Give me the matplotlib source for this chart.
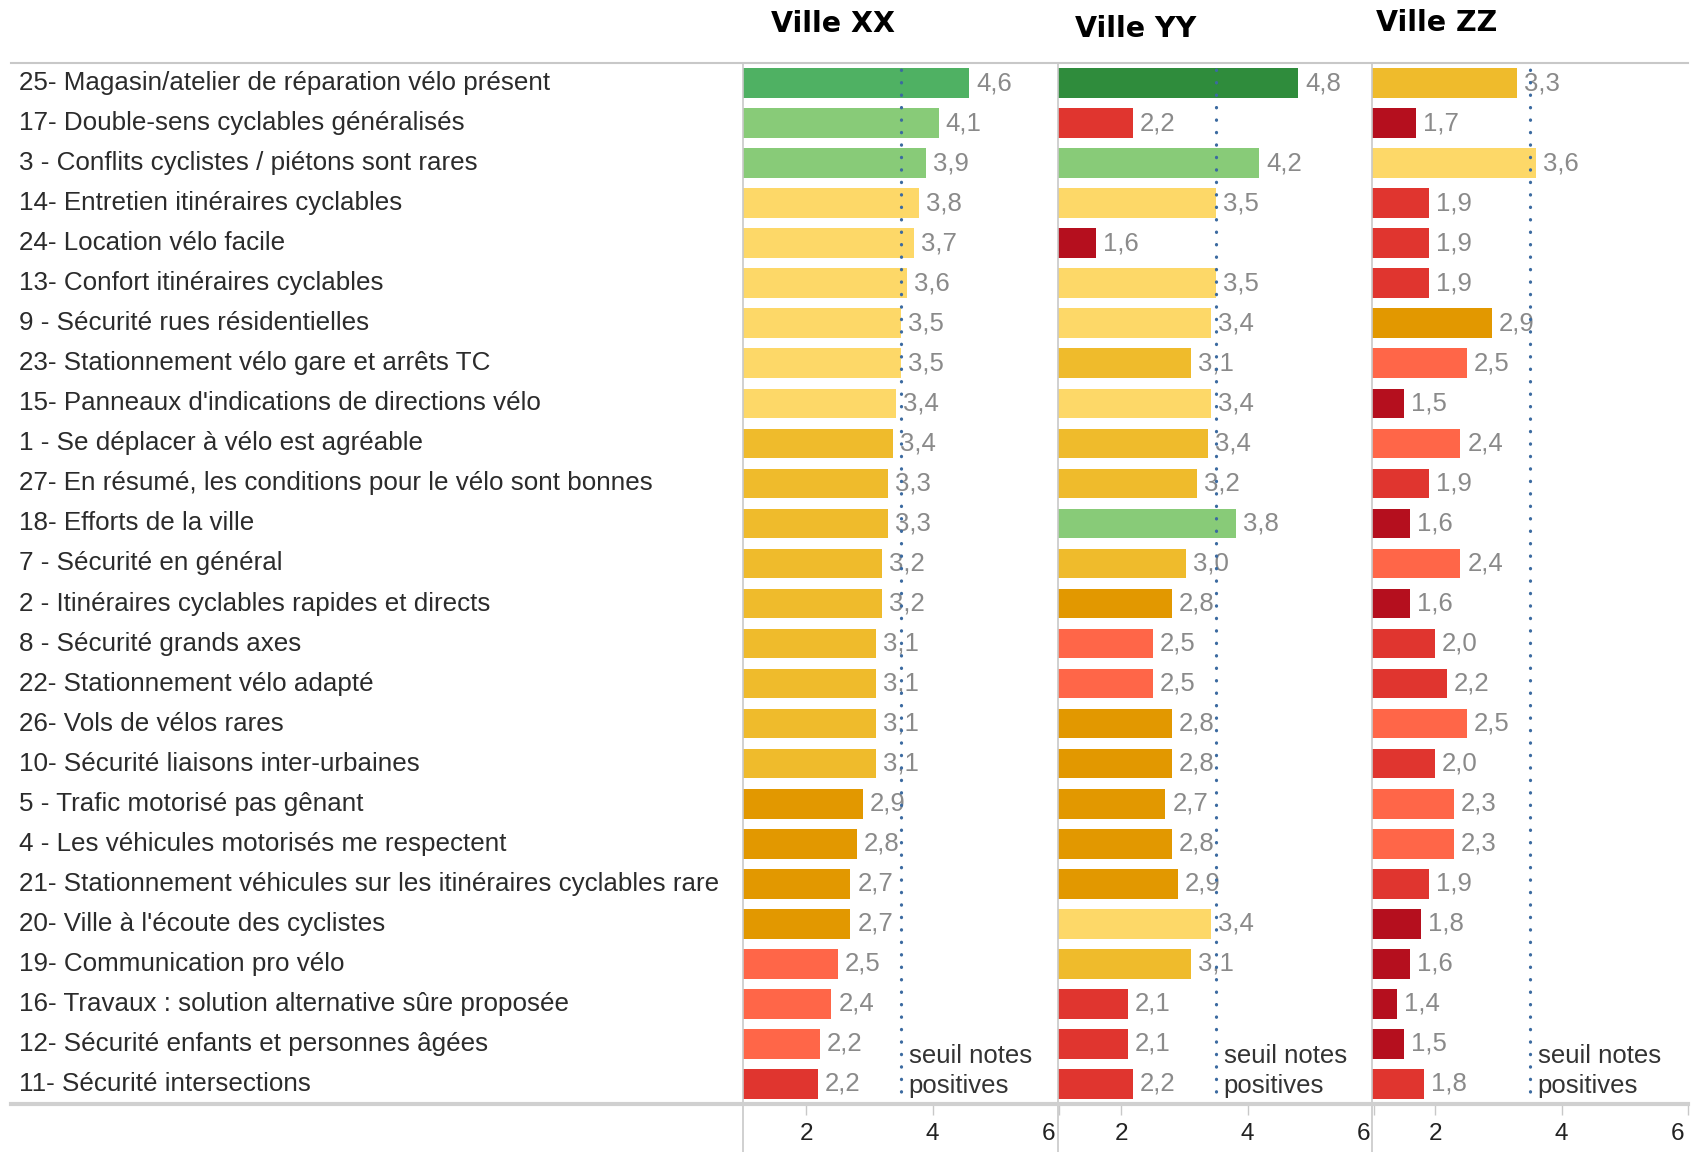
import numpy as np
import matplotlib
matplotlib.use("Agg")
import matplotlib.pyplot as plt
from matplotlib.lines import Line2D
from matplotlib import transforms

plt.rcParams['font.family'] = ['Liberation Sans', 'DejaVu Sans']

# questions, du haut vers le bas
questions = [
    "25- Magasin/atelier de réparation vélo présent",
    "17- Double-sens cyclables généralisés",
    "3 - Conflits cyclistes / piétons sont rares",
    "14- Entretien itinéraires cyclables",
    "24- Location vélo facile",
    "13- Confort itinéraires cyclables",
    "9 - Sécurité rues résidentielles",
    "23- Stationnement vélo gare et arrêts TC",
    "15- Panneaux d'indications de directions vélo",
    "1 - Se déplacer à vélo est agréable",
    "27- En résumé, les conditions pour le vélo sont bonnes",
    "18- Efforts de la ville",
    "7 - Sécurité en général",
    "2 - Itinéraires cyclables rapides et directs",
    "8 - Sécurité grands axes",
    "22- Stationnement vélo adapté",
    "26- Vols de vélos rares",
    "10- Sécurité liaisons inter-urbaines",
    "5 - Trafic motorisé pas gênant",
    "4 - Les véhicules motorisés me respectent",
    "21- Stationnement véhicules sur les itinéraires cyclables rare",
    "20- Ville à l'écoute des cyclistes",
    "19- Communication pro vélo",
    "16- Travaux : solution alternative sûre proposée",
    "12- Sécurité enfants et personnes âgées",
    "11- Sécurité intersections",
]

villes = ["Ville XX", "Ville YY", "Ville ZZ"]

notes_xx = [4.58, 4.1, 3.9, 3.78, 3.7, 3.6, 3.5, 3.5, 3.42, 3.38, 3.3, 3.3, 3.2,
            3.2, 3.1, 3.1, 3.1, 3.1, 2.9, 2.8, 2.7, 2.7, 2.5, 2.4, 2.22, 2.18]
notes_yy = [4.8, 2.18, 4.18, 3.5, 1.6, 3.5, 3.42, 3.1, 3.42, 3.38, 3.2, 3.82, 3.02,
            2.8, 2.5, 2.5, 2.8, 2.8, 2.7, 2.8, 2.9, 3.42, 3.1, 2.1, 2.1, 2.18]
notes_zz = [3.3, 1.7, 3.6, 1.9, 1.9, 1.9, 2.9, 2.5, 1.5, 2.4, 1.9, 1.6, 2.4,
            1.6, 2.0, 2.18, 2.5, 2.0, 2.3, 2.3, 1.9, 1.78, 1.6, 1.4, 1.5, 1.82]

seuil = 3.5
note_min = 1

# classes de couleur (pas de 0.4)
bornes = [1.8, 2.2, 2.6, 3.0, 3.4, 3.8, 4.2, 4.6]
palette = ['#b50f1e', '#e0352f', '#ff6648', '#e29800', '#efbb2c',
           '#fdd868', '#88cb78', '#4fb163', '#2f8c3c']

W, H = 1694, 1152
fig = plt.figure(figsize=(W/100, H/100), dpi=100)

def fx(px):
    return px / W

def fy(py):
    return 1 - py / H

top, bot = 63, 1104
gauches = [743, 1058, 1372]
largeur = 316
titres_pos = [(833, 24), (1136, 29), (1437, 23)]

n = len(questions)
y = np.arange(n)
axes = []
for k, notes in enumerate([notes_xx, notes_yy, notes_zz]):
    ax = fig.add_axes([fx(gauches[k]), fy(bot), fx(largeur), (bot - top) / H])
    notes = np.array(notes)
    couleurs = [palette[i] for i in np.digitize(notes, bornes)]
    ax.barh(y, notes - note_min, left=note_min, height=0.74, color=couleurs, zorder=2)
    for yi, v in zip(y, notes):
        ax.annotate(f"{v:.1f}".replace('.', ','), (v, yi), xytext=(5, 0),
                    textcoords='offset points', va='center', ha='left',
                    fontsize=18.5, color='#8a8a8a', zorder=3)
    ax.axvline(seuil, color='#3b6aa0', lw=2.3, linestyle=(0, (0.1, 3.8)),
               dash_capstyle='round', zorder=4)
    ax.text(seuil + 0.12, n - 2 + 0.3, "seuil notes", va='center', ha='left',
            fontsize=18.5, color='#333333')
    ax.text(seuil + 0.12, n - 1 + 0.05, "positives", va='center', ha='left',
            fontsize=18.5, color='#333333')
    ax.set_xlim(1, 6)
    ax.set_ylim(n - 0.5, -0.5)
    ax.set_yticks([])
    ax.set_xticks([2, 4, 6])
    ax.set_xticklabels(["2", "4", "6"], fontsize=17.5, color='#222222')
    ax.tick_params(axis='x', length=8, width=1, color='#c8c8c8', pad=6)
    # le "6" est décalé vers la gauche pour rester dans le panneau
    lab6 = ax.get_xticklabels()[-1]
    lab6.set_horizontalalignment('right')
    lab6.set_transform(lab6.get_transform() +
                       transforms.ScaledTranslation(-0.04, 0, fig.dpi_scale_trans))
    for s in ax.spines.values():
        s.set_visible(False)
    ax.patch.set_alpha(0)
    fig.text(fx(titres_pos[k][0]), fy(titres_pos[k][1]), villes[k], ha='center',
             va='center', fontsize=20.5, fontweight='bold', color='black',
             family='DejaVu Sans')
    # séparateur vertical
    fig.add_artist(Line2D([fx(gauches[k]), fx(gauches[k])], [fy(63), 0],
                          color='#c8c8c8', lw=1.2))
    axes.append(ax)

# lignes horizontales haut / bas
fig.add_artist(Line2D([fx(11), fx(1688)], [fy(63), fy(63)], color='#c8c8c8', lw=1.5))
fig.add_artist(Line2D([fx(11), fx(1688)], [fy(1104), fy(1104)], color='#d0d0d0', lw=3))

# libellés des questions
ax0 = axes[0]
trans = transforms.blended_transform_factory(fig.transFigure, ax0.transData)
for yi, q in zip(y, questions):
    ax0.text(fx(19), yi, q, transform=trans, ha='left', va='center',
             fontsize=18.7, color='#2b2b2b')

fig.savefig("out.png", dpi=100)
